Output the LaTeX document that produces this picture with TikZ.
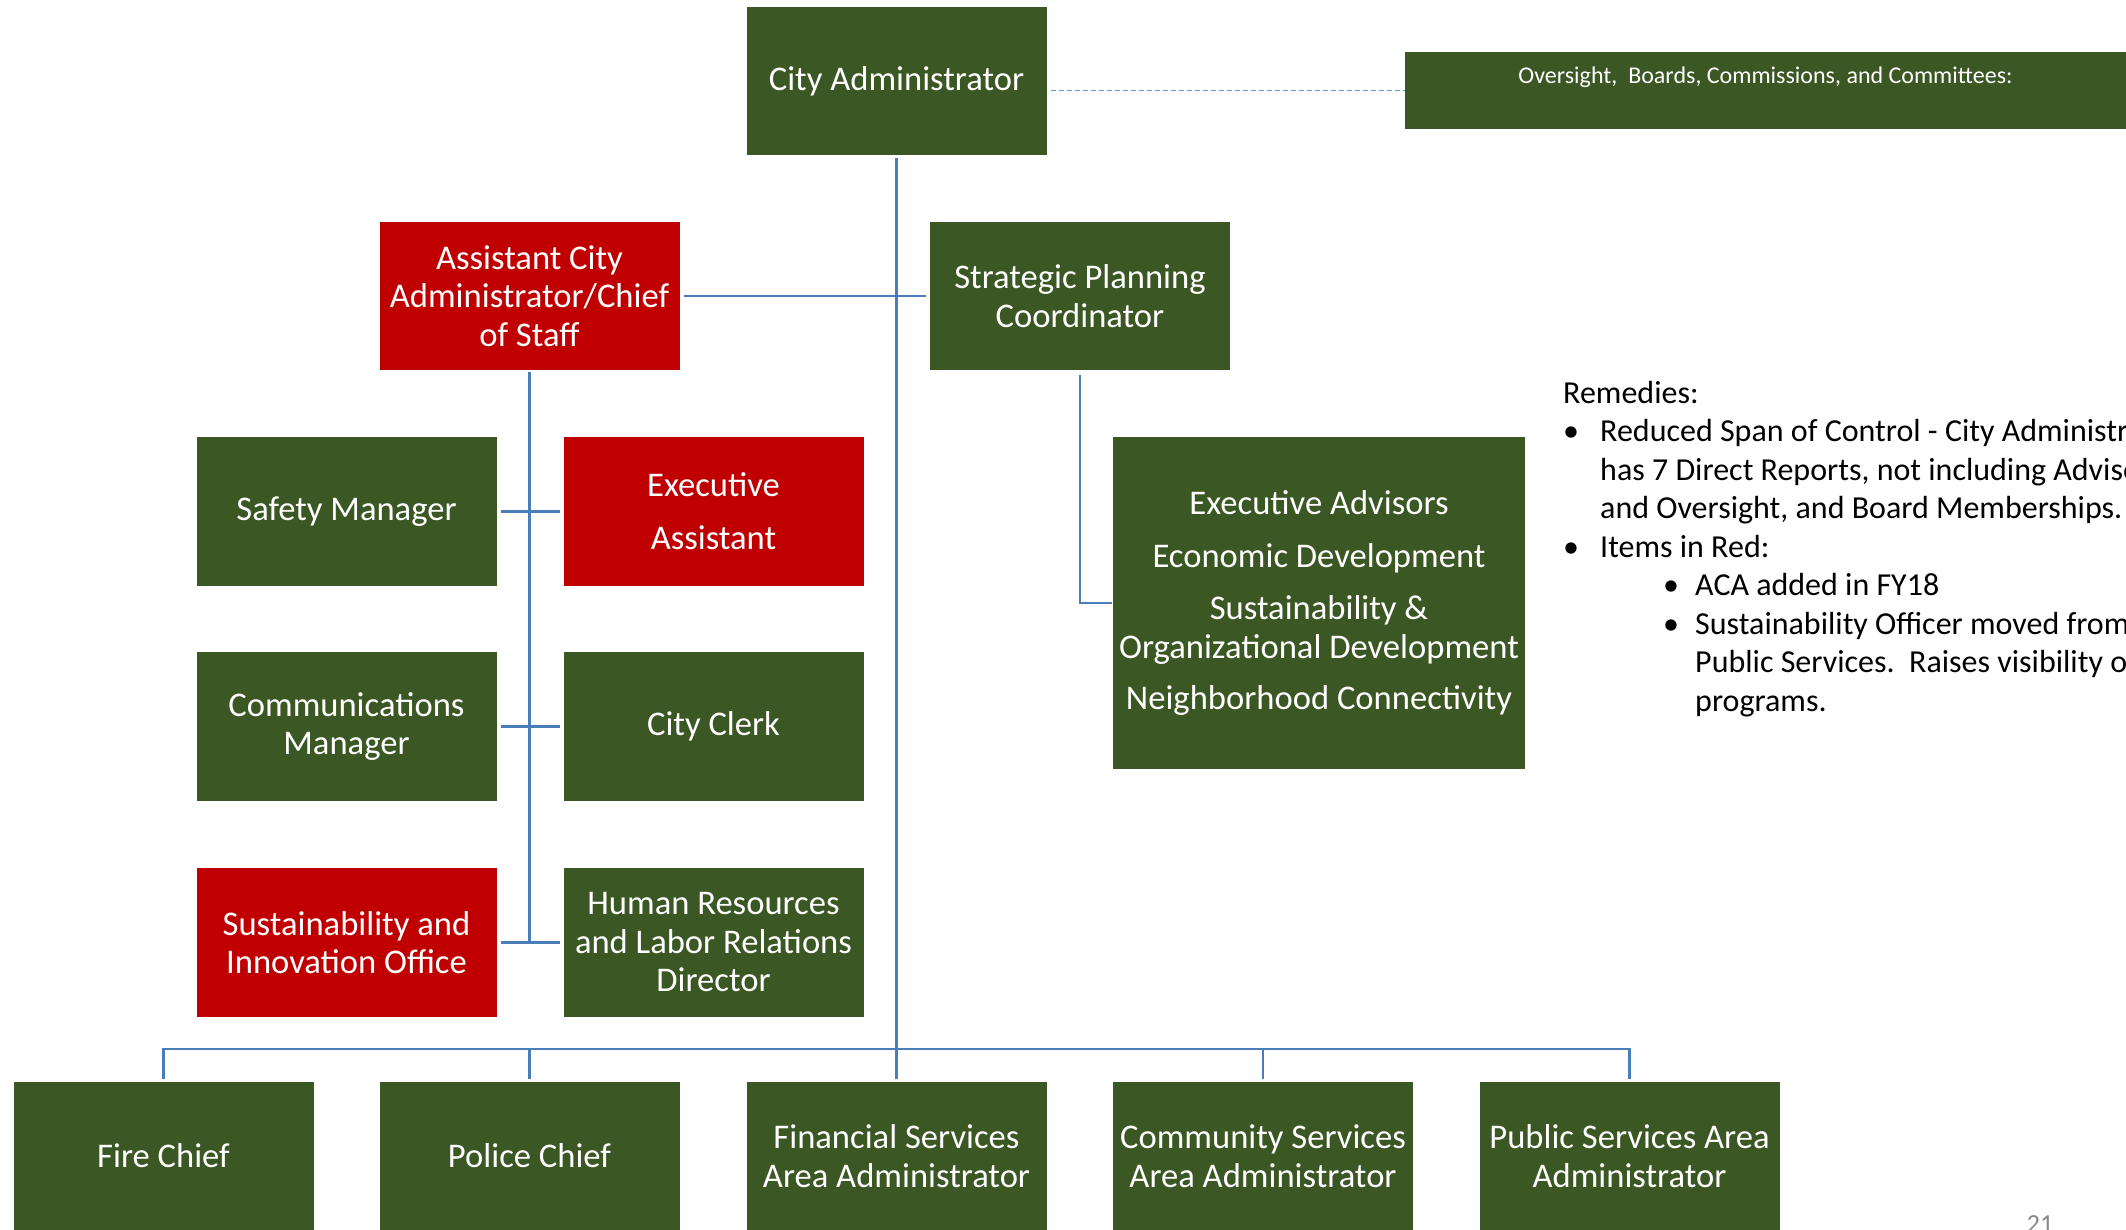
\documentclass[tikz,border=0pt]{standalone}
\usepackage{fontspec}
\setmainfont{Carlito}
\definecolor{boxgreen}{RGB}{59,87,36}
\definecolor{boxred}{RGB}{192,0,0}
\definecolor{connblue}{RGB}{74,126,187}
\definecolor{dashblue}{RGB}{91,155,213}
\definecolor{pagegray}{RGB}{137,137,137}
\begin{document}
\begin{tikzpicture}[x=1pt,y=-1pt,
  box/.style={fill=boxgreen, text=white, minimum width=300pt, minimum height=148pt, inner sep=0pt, align=center, font=\fontsize{34.6}{38.5}\selectfont},
  redbox/.style={box, fill=boxred},
  conn/.style={draw=connblue, line width=2.75pt},
  dashconn/.style={draw=dashblue, line width=1.4pt, dash pattern=on 5pt off 3pt},
  remtext/.style={anchor=north west, inner sep=0pt, align=left, font=\fontsize{32}{38.5}\selectfont},
]
\useasboundingbox (0,0) rectangle (2126,1230);
\clip (0,0) rectangle (2126,1230);
\fill[white] (0,0) rectangle (2126,1230);

% boxes
\node[box] (ca) at (896.5,81) {City Administrator};
\node[box, minimum width=721pt, minimum height=77pt, text height=17pt, text depth=30pt, font=\fontsize{24}{28}\selectfont] (ov) at (1765.5,90.5) {Oversight,\ \ Boards, Commissions, and Committees:};
\node[redbox] (aca) at (529.5,296) {Assistant City\\Administrator/Chief\\of Staff};
\node[box] (sp) at (1080,296) {Strategic Planning\\Coordinator};
\node[box, minimum height=149pt] (safety) at (346.5,511.5) {Safety Manager};
\node[redbox, minimum height=149pt] (exa) at (713.5,511.5) {Executive\\[14.5pt]Assistant};
\node[box, minimum height=149pt] (comm) at (346.5,726.5) {Communications\\Manager};
\node[box, minimum height=149pt] (clerk) at (713.5,726.5) {City Clerk};
\node[redbox, minimum height=149pt] (sust) at (346.5,942.5) {Sustainability and\\Innovation Office};
\node[box, minimum height=149pt] (hr) at (713.5,942.5) {Human Resources\\and Labor Relations\\Director};
\node[box, minimum width=412pt, minimum height=332pt] (ea) at (1319,603) {Executive Advisors\\[14pt]Economic Development\\[14pt]Sustainability \&\\Organizational Development\\[13pt]Neighborhood Connectivity};
\node[box] (fire) at (163.5,1156) {Fire Chief};
\node[box] (police) at (529.5,1156) {Police Chief};
\node[box] (fin) at (896.5,1156) {Financial Services\\Area Administrator};
\node[box] (comsvc) at (1263,1156) {Community Services\\Area Administrator};
\node[box] (pub) at (1629.5,1156) {Public Services Area\\Administrator};

% connectors
\draw[dashconn, shorten <=4pt] (ca.east |- ov.west) -- (ov.west);
\draw[conn, shorten <=3pt, shorten >=3pt] (ca.south) -- (fin.north);
\draw[conn, shorten <=4pt, shorten >=4pt] (aca.east) -- (sp.west);
\draw[conn, shorten <=2pt] (aca.south) -- (aca.south |- sust.east);
\draw[conn, shorten <=4pt, shorten >=3pt] (safety.east) -- (exa.west);
\draw[conn, shorten <=4pt, shorten >=3pt] (comm.east) -- (clerk.west);
\draw[conn, shorten <=4pt, shorten >=3pt] (sust.east) -- (hr.west);
\draw[conn, shorten <=5pt, shorten >=1pt] (sp.south) |- (ea.west);
\coordinate (bus) at (896.5,1049);
\draw[conn, shorten <=3pt, shorten >=3pt] (fire.north) |- (bus) -| (pub.north);
\draw[conn, shorten <=3pt] (police.north) -- (police.north |- bus);
\draw[conn, shorten <=3pt] (comsvc.north) -- (comsvc.north |- bus);

% remedies text
\node[remtext] (rem) at (1563,381) {Remedies:\\
\makebox[37pt][l]{\textbullet}Reduced Span of Control - City Administrator\\
\hspace*{37pt}has 7 Direct Reports, not including Advisors\\
\hspace*{37pt}and Oversight, and Board Memberships.\\
\makebox[37pt][l]{\textbullet}Items in Red:\\
\hspace*{100pt}\makebox[32pt][l]{\textbullet}ACA added in FY18\\
\hspace*{100pt}\makebox[32pt][l]{\textbullet}Sustainability Officer moved from\\
\hspace*{132pt}Public Services.\ \ Raises visibility of\\
\hspace*{132pt}programs.};

% page number
\node[anchor=base, inner sep=0pt, text=pagegray, font=\fontsize{26}{30}\selectfont] (pg) at (2040,1232) {21};
\end{tikzpicture}
\end{document}
